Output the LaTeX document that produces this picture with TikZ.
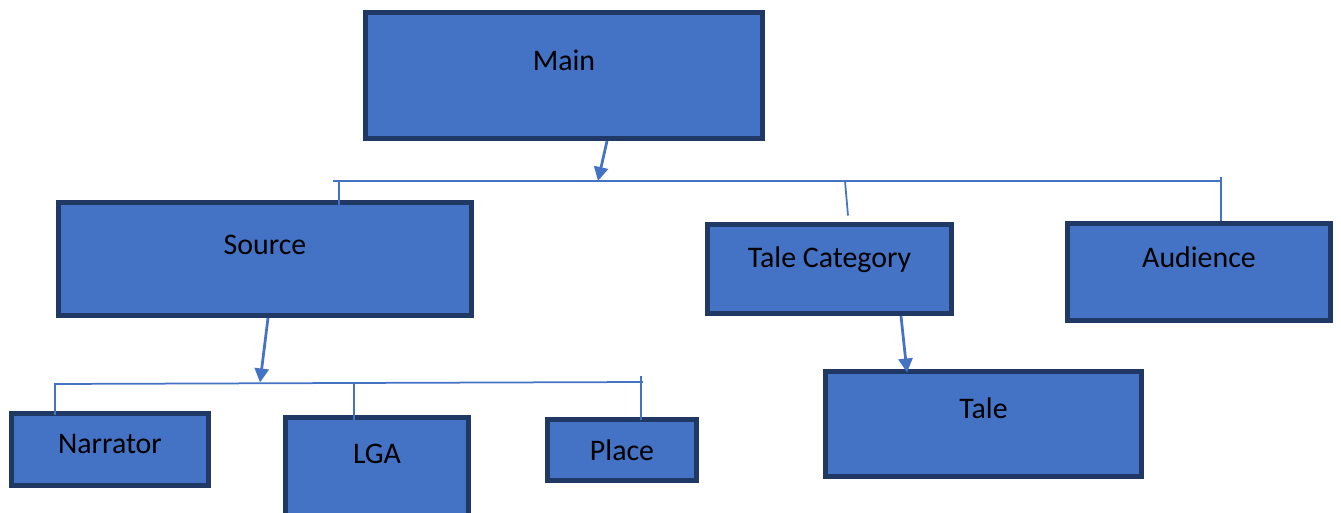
\documentclass[tikz,border=0pt]{standalone}
\usepackage{fontspec}
\setmainfont{Carlito}
\usetikzlibrary{positioning,calc,arrows.meta}
\definecolor{boxfill}{HTML}{4472C4}
\definecolor{boxline}{HTML}{203864}
\definecolor{wire}{HTML}{4472C4}
\tikzset{
  block/.style={rectangle, draw=boxline, fill=boxfill, line width=0.1cm, inner sep=0pt, minimum height=0pt, font=\fontsize{17}{20}\selectfont},
  connect/.style={-{Triangle[length=0.28cm,width=0.28cm]}, draw=wire, line width=0.055cm},
  wireline/.style={draw=wire, line width=0.035cm}
}

\begin{document}
\begin{tikzpicture}[x=0.02cm, y=-0.02cm]
      \useasboundingbox (0,0) rectangle (1341,513);
      \clip (0,0) rectangle (1341,513);
      \node[block, minimum width=7.94cm, text height=1.17cm, text depth=1.35cm] (Main) at (564,75.5) {Main};
      \node[block, minimum width=8.26cm, text height=1.03cm, text depth=1.23cm] (Source) at (265,259) {Source};
      \node[block, minimum width=4.88cm, text height=0.85cm, text depth=0.93cm] (Category) at (829.5,269) {Tale Category};
      \node[block, minimum width=5.26cm, text height=0.87cm, text depth=1.07cm] (Audience) at (1199,272) {Audience};
      \node[block, minimum width=6.32cm, text height=0.93cm, text depth=1.17cm] (Tale) at (983.5,424) {Tale};
      \node[block, minimum width=3.94cm, text height=0.79cm, text depth=0.65cm] (Narrator) at (110,449.5) {Narrator};
      \node[block, minimum width=3.66cm, text height=0.91cm, text depth=1.29cm] (LGA) at (377,472.5) {LGA};
      \node[block, minimum width=2.98cm, text height=0.81cm, text depth=0.41cm] (Place) at (622,450) {Place};

      % first bus under Main
      \coordinate (busL) at (333,181);
      \coordinate (busR) at (1221,181);
      \coordinate (busM) at (598,181);
      \coordinate (tSrc) at (339,181);
      \coordinate (tCat) at (845,181);
      \draw[wireline] (busL) -- (busR);
      \draw[connect] ([xshift=0.86cm]Main.south) -- (busM);
      \draw[wireline] (tSrc) -- ([yshift=-0.15cm]tSrc |- Source.north);
      \draw[wireline] (tCat) -- ($(Category.north)+(18.5,-6.5)$);
      \draw[wireline] ([yshift=0.08cm]busR) -- (busR |- Audience.north);

      % second bus under Source
      \coordinate (subL) at (54,384);
      \coordinate (subR) at (643,382);
      \coordinate (subM) at (260,382.5);
      \coordinate (tNar) at (55,384);
      \coordinate (tLga) at (354,383);
      \coordinate (tPla) at (641,382);
      \draw[wireline] (subL) -- (subR);
      \draw[connect] ([xshift=0.06cm]Source.south) -- (subM);
      \draw[wireline] (tNar) -- ([yshift=-0.07cm]tNar |- Narrator.north);
      \draw[wireline] (tLga) -- ([yshift=-0.25cm]tLga |- LGA.north);
      \draw[wireline] ([yshift=0.12cm]tPla) -- ([yshift=-0.05cm]tPla |- Place.north);

      \draw[connect] ([xshift=1.43cm]Category.south) -- ([xshift=-1.53cm,yshift=-0.07cm]Tale.north);
\end{tikzpicture}
\end{document}
